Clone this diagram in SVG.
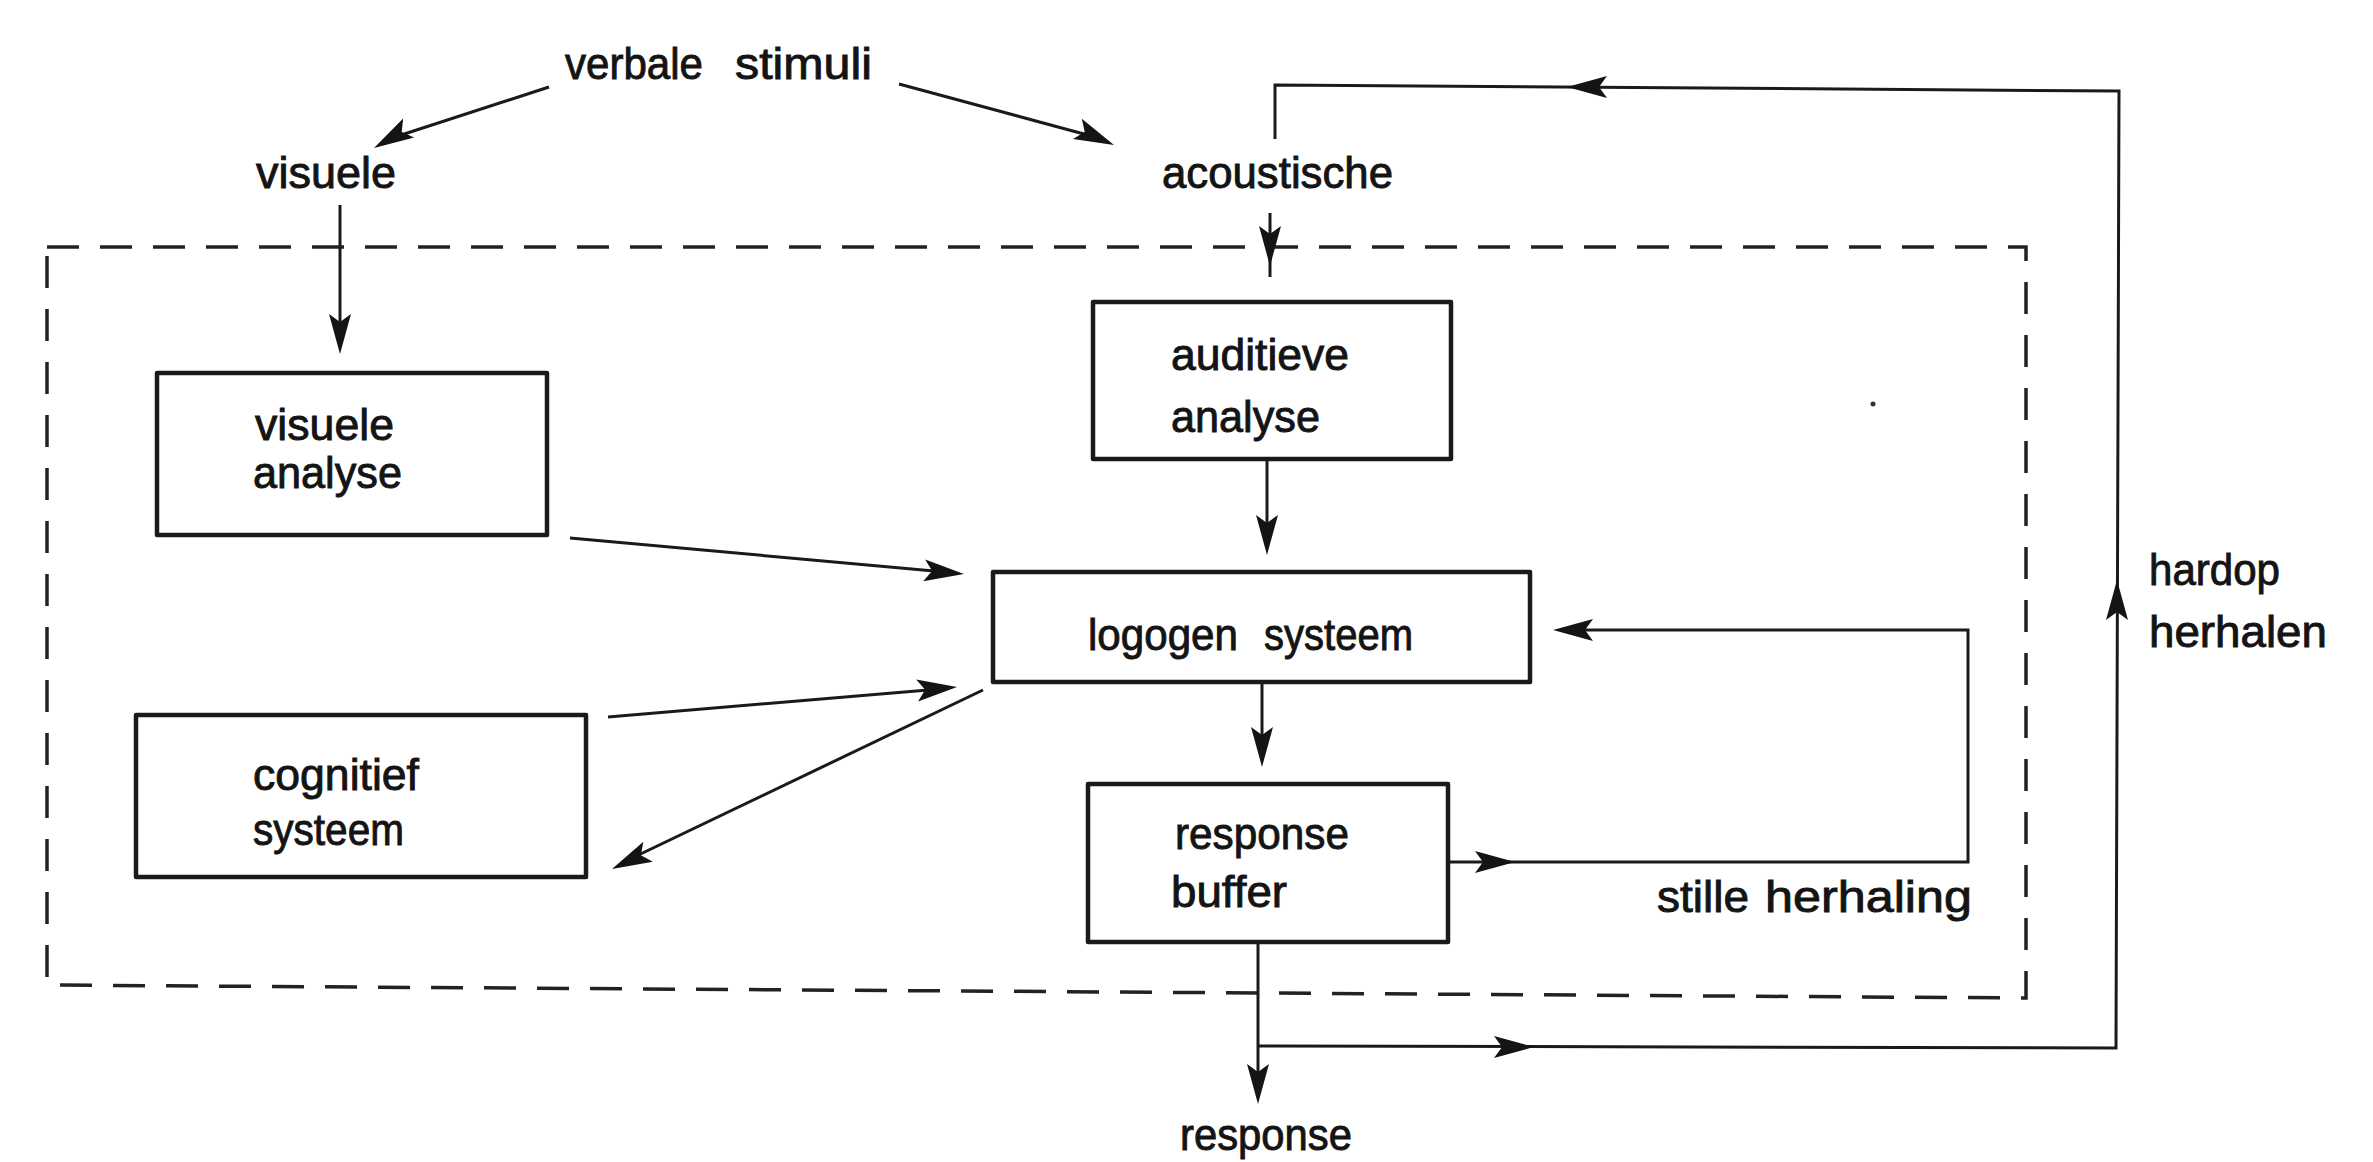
<svg xmlns="http://www.w3.org/2000/svg" xmlns:xlink="http://www.w3.org/1999/xlink" width="2373" height="1162" viewBox="0 0 2373 1162">
  <style>
    .bg { fill: #ffffff; }
    .box { fill: none; stroke: #1a1a1a; stroke-width: 4.5; stroke-linejoin: round; }
    .line { fill: none; stroke: #1a1a1a; stroke-width: 3; stroke-linejoin: miter; }
    .dash { fill: none; stroke: #222222; stroke-width: 3.5; stroke-dasharray: 32 21; }
    .lbl { font-family: "Liberation Sans", Arial, sans-serif; font-size: 44px; fill: #141414; stroke: #141414; stroke-width: 0.9; }
    .head { fill: #141414; }
  </style>
  <defs>
    <!-- arrowhead pointing along +x, tip at origin -->
    <path id="ah" d="M0,0 L-40,-11 L-32,0 L-40,11 Z"/>
  </defs>

  <rect class="bg" x="0" y="0" width="2373" height="1162"/>

  <!-- boundary of the internal processing system -->
  <path id="boundary" class="dash" d="M47,247 L2026,247 L2026,998 L47,985 Z"/>

  <!-- free labels -->
  <g id="verbale-stimuli">
    <text class="lbl" y="79"><tspan x="565" textLength="138" lengthAdjust="spacingAndGlyphs">verbale</tspan> <tspan x="735" textLength="137" lengthAdjust="spacingAndGlyphs">stimuli</tspan></text>
  </g>
  <g id="visuele">
    <text class="lbl" x="256" y="188" textLength="140" lengthAdjust="spacingAndGlyphs">visuele</text>
  </g>
  <g id="acoustische">
    <text class="lbl" x="1162" y="188" textLength="231" lengthAdjust="spacingAndGlyphs">acoustische</text>
  </g>

  <!-- processing stages -->
  <g id="visuele-analyse">
    <rect class="box" x="157" y="373" width="390" height="162"/>
    <text class="lbl" x="255" y="440" textLength="139" lengthAdjust="spacingAndGlyphs">visuele</text>
    <text class="lbl" x="253" y="488" textLength="149" lengthAdjust="spacingAndGlyphs">analyse</text>
  </g>
  <g id="auditieve-analyse">
    <rect class="box" x="1093" y="302" width="358" height="157"/>
    <text class="lbl" x="1171" y="370" textLength="178" lengthAdjust="spacingAndGlyphs">auditieve</text>
    <text class="lbl" x="1171" y="432" textLength="149" lengthAdjust="spacingAndGlyphs">analyse</text>
  </g>
  <g id="logogen-systeem">
    <rect class="box" x="993" y="572" width="537" height="110"/>
    <text class="lbl" y="650"><tspan x="1088" textLength="150" lengthAdjust="spacingAndGlyphs">logogen</tspan> <tspan x="1264" textLength="149" lengthAdjust="spacingAndGlyphs">systeem</tspan></text>
  </g>
  <g id="cognitief-systeem">
    <rect class="box" x="136" y="715" width="450" height="162"/>
    <text class="lbl" x="253" y="790" textLength="166" lengthAdjust="spacingAndGlyphs">cognitief</text>
    <text class="lbl" x="253" y="845" textLength="151" lengthAdjust="spacingAndGlyphs">systeem</text>
  </g>
  <g id="response-buffer">
    <rect class="box" x="1088" y="784" width="360" height="158"/>
    <text class="lbl" x="1175" y="849" textLength="174" lengthAdjust="spacingAndGlyphs">response</text>
    <text class="lbl" x="1171" y="907" textLength="116" lengthAdjust="spacingAndGlyphs">buffer</text>
  </g>
  <g id="response">
    <text class="lbl" x="1180" y="1150" textLength="172" lengthAdjust="spacingAndGlyphs">response</text>
  </g>
  <g id="stille-herhaling">
    <text class="lbl" y="912"><tspan x="1657" textLength="92" lengthAdjust="spacingAndGlyphs">stille</tspan> <tspan x="1765" textLength="207" lengthAdjust="spacingAndGlyphs">herhaling</tspan></text>
  </g>
  <g id="hardop-herhalen">
    <text class="lbl" x="2149" y="585" textLength="131" lengthAdjust="spacingAndGlyphs">hardop</text>
    <text class="lbl" x="2149" y="647" textLength="178" lengthAdjust="spacingAndGlyphs">herhalen</text>
  </g>

  <!-- connectors -->
  <g id="connectors">
    <line class="line" x1="549" y1="87" x2="392" y2="138"/>
    <use xlink:href="#ah" class="head" transform="translate(374,148) rotate(150)"/>

    <line class="line" x1="899" y1="84" x2="1095" y2="137"/>
    <use xlink:href="#ah" class="head" transform="translate(1114,145) rotate(23.8)"/>

    <line class="line" x1="340" y1="205" x2="340" y2="340"/>
    <use xlink:href="#ah" class="head" transform="translate(340,354) rotate(90)"/>

    <line class="line" x1="1270" y1="213" x2="1270" y2="277"/>
    <use xlink:href="#ah" class="head" transform="translate(1270,266) rotate(90)"/>

    <line class="line" x1="1267" y1="459" x2="1267" y2="540"/>
    <use xlink:href="#ah" class="head" transform="translate(1267,555) rotate(90)"/>

    <line class="line" x1="570" y1="538" x2="945" y2="572"/>
    <use xlink:href="#ah" class="head" transform="translate(964,574) rotate(5.2)"/>

    <line class="line" x1="608" y1="717" x2="940" y2="689"/>
    <use xlink:href="#ah" class="head" transform="translate(957,687) rotate(-4.9)"/>

    <line class="line" x1="983" y1="690" x2="628" y2="860"/>
    <use xlink:href="#ah" class="head" transform="translate(612,869) rotate(154.4)"/>

    <line class="line" x1="1262" y1="683" x2="1262" y2="752"/>
    <use xlink:href="#ah" class="head" transform="translate(1262,767) rotate(90)"/>

    <!-- silent rehearsal loop -->
    <path class="line" d="M1448,862 L1968,862 L1968,630 L1568,630"/>
    <use xlink:href="#ah" class="head" transform="translate(1515,862)"/>
    <use xlink:href="#ah" class="head" transform="translate(1553,630) rotate(180)"/>

    <line class="line" x1="1258" y1="942" x2="1258" y2="1090"/>
    <use xlink:href="#ah" class="head" transform="translate(1258,1104) rotate(90)"/>

    <!-- overt rehearsal loop -->
    <path class="line" d="M1258,1046 L2116,1048 L2119,91 L1275,85 L1275,139"/>
    <use xlink:href="#ah" class="head" transform="translate(1534,1047)"/>
    <use xlink:href="#ah" class="head" transform="translate(2117,580) rotate(-90)"/>
    <use xlink:href="#ah" class="head" transform="translate(1567,87) rotate(180)"/>
  </g>

  <circle cx="1873" cy="404" r="2.5" fill="#333333"/>
</svg>
